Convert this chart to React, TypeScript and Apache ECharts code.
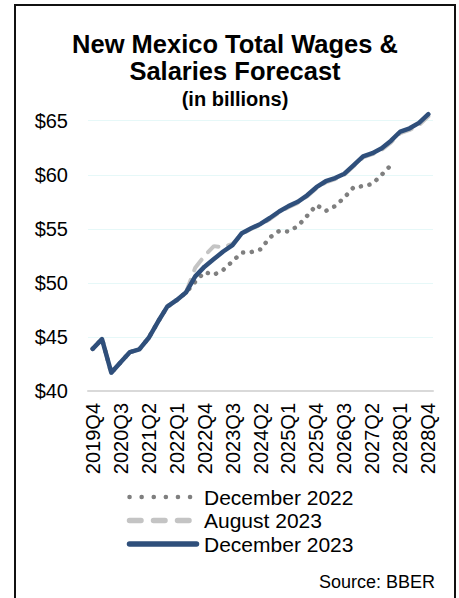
import React, { useEffect, useRef } from "react";
import * as echarts from "echarts";

const categories = [
  "2019Q4", "2020Q1", "2020Q2", "2020Q3", "2020Q4", "2021Q1", "2021Q2", "2021Q3", "2021Q4",
  "2022Q1", "2022Q2", "2022Q3", "2022Q4", "2023Q1", "2023Q2", "2023Q3", "2023Q4",
  "2024Q1", "2024Q2", "2024Q3", "2024Q4", "2025Q1", "2025Q2", "2025Q3", "2025Q4",
  "2026Q1", "2026Q2", "2026Q3", "2026Q4", "2027Q1", "2027Q2", "2027Q3", "2027Q4",
  "2028Q1", "2028Q2", "2028Q3", "2028Q4",
];

const december2022 = [
  43.9, 44.8, 41.7, 42.65, 43.6, 43.85, 44.9, 46.4, 47.8, 48.4, 49.1,
  50.1, 51.0, 50.75, 51.2, 52.0, 52.8, 52.85, 53.1, 54.2, 54.8, 54.75,
  55.25, 56.2, 57.2, 56.65, 57.1, 57.9, 58.85, 58.95, 59.15, 60.0, 60.9,
];

const august2023 = [
  43.9, 44.8, 41.7, 42.65, 43.6, 43.85, 44.9, 46.4, 47.8, 48.4, 49.1,
  51.4, 52.5, 53.4, 53.3, 53.6, 54.5, 55.0, 55.35, 55.9, 56.5, 57.0,
  57.4, 58.0, 58.75, 59.3, 59.6, 60.0, 60.8, 61.6, 61.9, 62.3, 63.0,
  63.85, 64.15, 64.6, 65.4,
];

const december2023 = [
  43.9, 44.8, 41.7, 42.65, 43.6, 43.85, 44.9, 46.4, 47.8, 48.4, 49.1,
  50.6, 51.5, 52.2, 52.9, 53.5, 54.6, 55.05, 55.45, 56.0, 56.6, 57.1,
  57.5, 58.1, 58.85, 59.4, 59.7, 60.1, 60.9, 61.7, 62.0, 62.45, 63.15,
  64.0, 64.3, 64.8, 65.6,
];

const seriesNames = ["December 2022", "August 2023", "December 2023"];
const yTicks = { min: 40, max: 65, interval: 5 };

const FONT = "Arial, 'Liberation Sans', sans-serif";
const C_DOT = "#7F7F7F";
const C_DASH = "#C4C4C4";
const C_BLUE = "#2F4F7B";

export default function App() {
  const ref = useRef<HTMLDivElement>(null);

  useEffect(() => {
    if (!ref.current) return;
    const chart = echarts.init(ref.current, undefined, { renderer: "svg" });

    const legendRows = [
      { name: seriesNames[0], y: 497, style: { stroke: C_DOT, lineWidth: 4.5, lineDash: [0.1, 12], lineCap: "round" } },
      { name: seriesNames[1], y: 520.5, style: { stroke: C_DASH, lineWidth: 5.5, lineDash: [11.5, 12.5], lineCap: "round" } },
      { name: seriesNames[2], y: 544, style: { stroke: C_BLUE, lineWidth: 5.5, lineCap: "round" } },
    ];
    const legendGraphics: any[] = [];
    legendRows.forEach((r, i) => {
      legendGraphics.push({
        type: "line",
        shape: { x1: 129.5, y1: r.y, x2: i === 0 ? 191 : 196.5, y2: r.y },
        style: { fill: "none", ...r.style },
        silent: true,
      });
      legendGraphics.push({
        type: "text",
        x: 204,
        y: r.y,
        style: {
          text: r.name,
          font: `21px ${FONT}`,
          fill: "#000",
          textAlign: "left",
          textVerticalAlign: "middle",
        },
      });
    });

    const option: any = {
      animation: false,
      backgroundColor: "#ffffff",
      textStyle: { fontFamily: FONT },
      grid: { left: 88, right: 26, top: 120.7, bottom: 207, containLabel: false },
      graphic: [
        {
          type: "rect",
          shape: { x: 15, y: 5, width: 440, height: 620 },
          style: { fill: "none", stroke: "#111111", lineWidth: 2 },
          silent: true,
        },
        {
          type: "text",
          x: 235,
          y: 44,
          style: {
            text: "New Mexico Total Wages &",
            font: `bold 25.5px ${FONT}`,
            fill: "#000",
            textAlign: "center",
            textVerticalAlign: "middle",
          },
        },
        {
          type: "text",
          x: 235,
          y: 71,
          style: {
            text: "Salaries Forecast",
            font: `bold 25.5px ${FONT}`,
            fill: "#000",
            textAlign: "center",
            textVerticalAlign: "middle",
          },
        },
        {
          type: "text",
          x: 235,
          y: 99,
          style: {
            text: "(in billions)",
            font: `bold 20px ${FONT}`,
            fill: "#000",
            textAlign: "center",
            textVerticalAlign: "middle",
          },
        },
        {
          type: "text",
          x: 435,
          y: 582,
          style: {
            text: "Source: BBER",
            font: `18px ${FONT}`,
            fill: "#000",
            textAlign: "right",
            textVerticalAlign: "middle",
          },
        },
        ...legendGraphics,
      ],
      xAxis: {
        type: "category",
        data: categories,
        boundaryGap: true,
        axisLine: { show: true, lineStyle: { color: "#D9D9D9", width: 2 } },
        axisTick: { show: false },
        axisLabel: {
          interval: 2,
          rotate: 90,
          fontSize: 20,
          color: "#000",
          margin: 12,
          fontFamily: FONT,
        },
        splitLine: { show: false },
      },
      yAxis: {
        type: "value",
        min: yTicks.min,
        max: yTicks.max,
        interval: yTicks.interval,
        axisLine: { show: false },
        axisTick: { show: false },
        axisLabel: {
          fontSize: 20,
          color: "#000",
          margin: 20,
          fontFamily: FONT,
          formatter: (v: number) => "$" + v,
        },
        splitLine: { show: true, lineStyle: { color: "#E6F8F8", width: 1 } },
      },
      series: [
        {
          name: seriesNames[0],
          type: "line",
          data: december2022,
          symbol: "none",
          clip: false,
          z: 2,
          itemStyle: { color: C_DOT },
          lineStyle: { color: C_DOT, width: 4.5, type: [0.1, 8.6], cap: "round" },
        },
        {
          name: seriesNames[1],
          type: "line",
          data: august2023,
          symbol: "none",
          clip: false,
          z: 3,
          itemStyle: { color: C_DASH },
          lineStyle: { color: C_DASH, width: 4, type: [13, 10], cap: "round" },
        },
        {
          name: seriesNames[2],
          type: "line",
          data: december2023,
          symbol: "none",
          clip: false,
          z: 4,
          itemStyle: { color: C_BLUE },
          lineStyle: { color: C_BLUE, width: 4.5, cap: "round", join: "round" },
        },
      ],
    };
    chart.setOption(option);
    return () => chart.dispose();
  }, []);

  return (
    <div
      ref={ref}
      style={{ position: "absolute", left: 0, top: 0, width: 459, height: 598 }}
    />
  );
}
